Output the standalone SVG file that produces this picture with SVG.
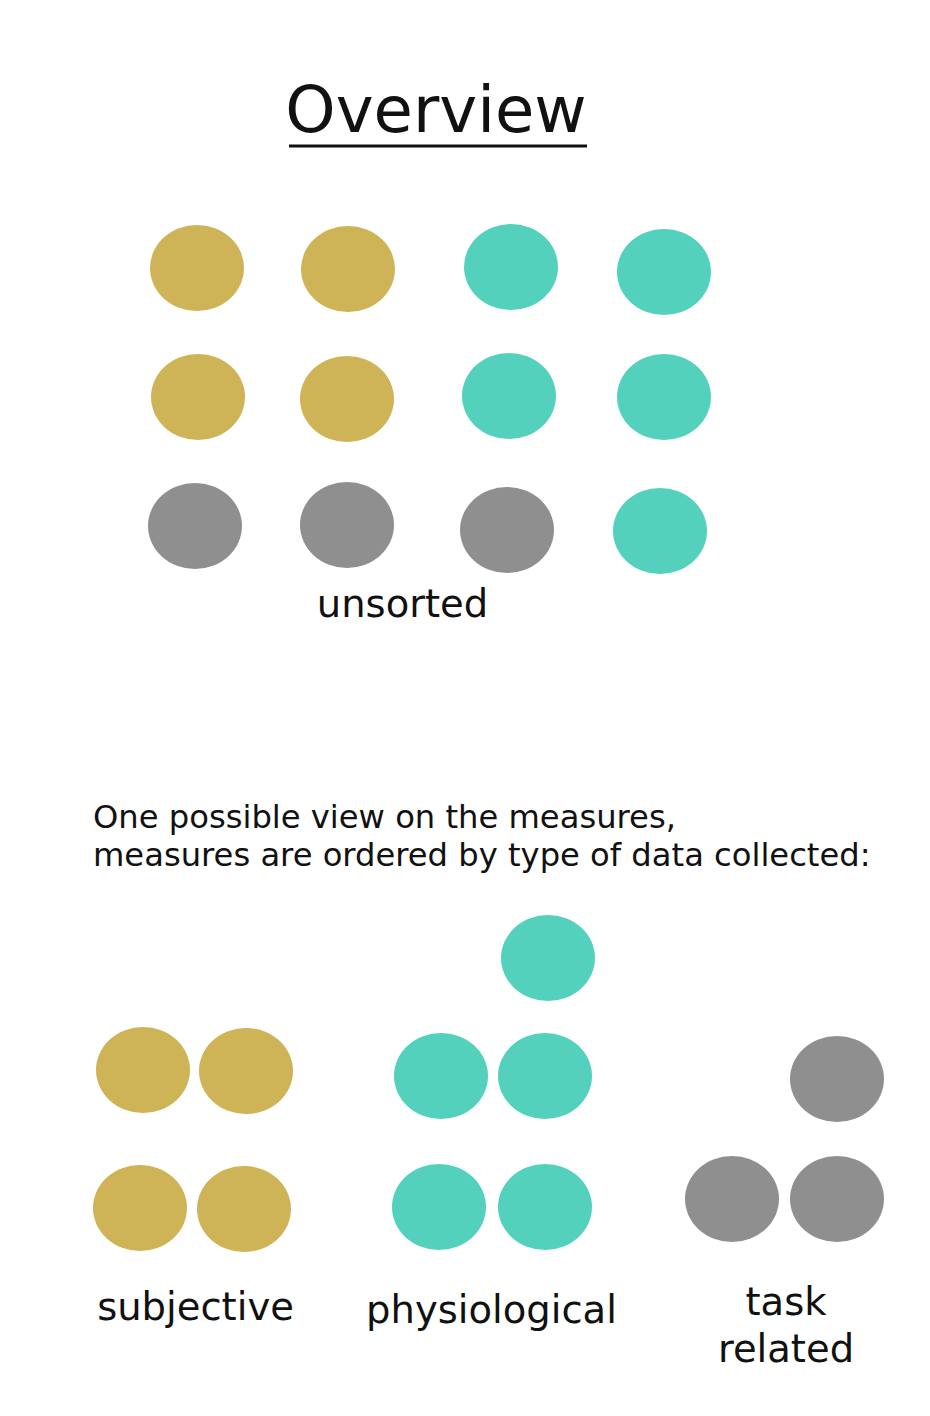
<svg xmlns="http://www.w3.org/2000/svg" width="930" height="1416" viewBox="0 0 930 1416">
<style>
.g{fill:#CEB456}
.t{fill:#53D1BD}
.k{fill:#8F8F8F}
text{font-family:"DejaVu Sans","Verdana",sans-serif;fill:#111}
.lbl{font-size:38.5px;text-anchor:middle}
.intro{font-size:32.2px}
</style>
<rect width="930" height="1416" fill="#fff"/>
<g id="title">
<text x="436" y="132" font-size="64" text-anchor="middle">Overview</text>
<line x1="289" y1="146" x2="587" y2="146" stroke="#111" stroke-width="3"/>
</g>
<g id="unsorted">
<ellipse class="g" cx="197" cy="268" rx="47" ry="43"/>
<ellipse class="g" cx="348" cy="269" rx="47" ry="43"/>
<ellipse class="t" cx="511" cy="267" rx="47" ry="43"/>
<ellipse class="t" cx="664" cy="272" rx="47" ry="43"/>
<ellipse class="g" cx="198" cy="397" rx="47" ry="43"/>
<ellipse class="g" cx="347" cy="399" rx="47" ry="43"/>
<ellipse class="t" cx="509" cy="396" rx="47" ry="43"/>
<ellipse class="t" cx="664" cy="397" rx="47" ry="43"/>
<ellipse class="k" cx="195" cy="526" rx="47" ry="43"/>
<ellipse class="k" cx="347" cy="525" rx="47" ry="43"/>
<ellipse class="k" cx="507" cy="530" rx="47" ry="43"/>
<ellipse class="t" cx="660" cy="531" rx="47" ry="43"/>
<text class="lbl" x="402.5" y="617">unsorted</text>
</g>
<g id="intro">
<text class="intro" x="93" y="828">One possible view on the measures,</text>
<text class="intro" x="93" y="866">measures are ordered by type of data collected:</text>
</g>
<g id="subjective">
<ellipse class="g" cx="143" cy="1070" rx="47" ry="43"/>
<ellipse class="g" cx="246" cy="1071" rx="47" ry="43"/>
<ellipse class="g" cx="140" cy="1208" rx="47" ry="43"/>
<ellipse class="g" cx="244" cy="1209" rx="47" ry="43"/>
<text class="lbl" x="195.5" y="1320">subjective</text>
</g>
<g id="physiological">
<ellipse class="t" cx="548" cy="958" rx="47" ry="43"/>
<ellipse class="t" cx="441" cy="1076" rx="47" ry="43"/>
<ellipse class="t" cx="545" cy="1076" rx="47" ry="43"/>
<ellipse class="t" cx="439" cy="1207" rx="47" ry="43"/>
<ellipse class="t" cx="545" cy="1207" rx="47" ry="43"/>
<text class="lbl" x="491.5" y="1323">physiological</text>
</g>
<g id="task-related">
<ellipse class="k" cx="837" cy="1079" rx="47" ry="43"/>
<ellipse class="k" cx="732" cy="1199" rx="47" ry="43"/>
<ellipse class="k" cx="837" cy="1199" rx="47" ry="43"/>
<text class="lbl" x="786" y="1315">task</text>
<text class="lbl" x="786" y="1362">related</text>
</g>
<g id="connectors"/>
</svg>
